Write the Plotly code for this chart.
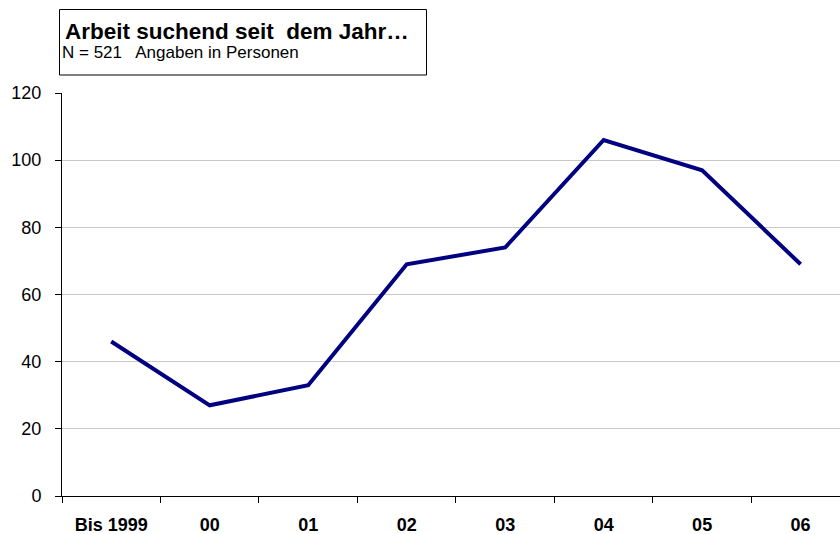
import plotly.graph_objects as go

categories = ["Bis 1999", "00", "01", "02", "03", "04", "05", "06"]
values = [46, 27, 33, 69, 74, 106, 97, 69]
y_ticks = [0, 20, 40, 60, 80, 100, 120]

title_text = "Arbeit suchend seit  dem Jahr…"
subtitle_text = "N = 521   Angaben in Personen"

W, H = 840, 534
L, R, T, B = 62, 0, 93, 38
pw, ph = W - L - R, H - T - B

def px_x(x):
    return (x - L) / pw

def px_y(y):
    return (H - B - y) / ph

fig = go.Figure()
fig.add_trace(go.Scatter(
    x=categories, y=values, mode="lines",
    line=dict(color="#000080", width=4), hoverinfo="skip", showlegend=False,
))

fig.update_layout(
    width=W, height=H,
    margin=dict(l=L, r=R, t=T, b=B, pad=0),
    paper_bgcolor="white", plot_bgcolor="white",
    font=dict(family="Liberation Sans, Arial, sans-serif", color="black"),
    xaxis=dict(
        type="category", categoryorder="array", categoryarray=categories,
        range=[-0.5, 7.4],
        tickson="boundaries", ticks="outside", ticklen=6, tickcolor="black",
        showline=True, linecolor="black", linewidth=1, showgrid=False,
        tickfont=dict(size=18, family="Liberation Sans, Arial, sans-serif", weight="bold"),
        ticklabelstandoff=12,
        zeroline=False, fixedrange=True,
    ),
    yaxis=dict(
        range=[0, 120], tickvals=y_ticks,
        ticks="outside", ticklen=6, tickcolor="black",
        showline=True, linecolor="black", linewidth=1,
        showgrid=True, gridcolor="#c8c8c8", gridwidth=1,
        tickfont=dict(size=18), ticklabelstandoff=10,
        zeroline=False, fixedrange=True,
    ),
    shapes=[dict(
        type="rect", xref="paper", yref="paper",
        x0=px_x(59.5), x1=px_x(426.5), y0=px_y(75), y1=px_y(9.5),
        line=dict(color="black", width=1), fillcolor="white",
    )],
    annotations=[
        dict(text="<b>" + title_text + "</b>", xref="paper", yref="paper",
             x=px_x(63), y=px_y(31), xanchor="left", yanchor="middle",
             showarrow=False, font=dict(size=22.5, color="black")),
        dict(text=subtitle_text, xref="paper", yref="paper",
             x=px_x(60), y=px_y(53), xanchor="left", yanchor="middle",
             showarrow=False, font=dict(size=17, color="black")),
    ],
)

fig.write_html("out.html", config={"displayModeBar": False},
               post_script="document.body.style.margin='0';")
